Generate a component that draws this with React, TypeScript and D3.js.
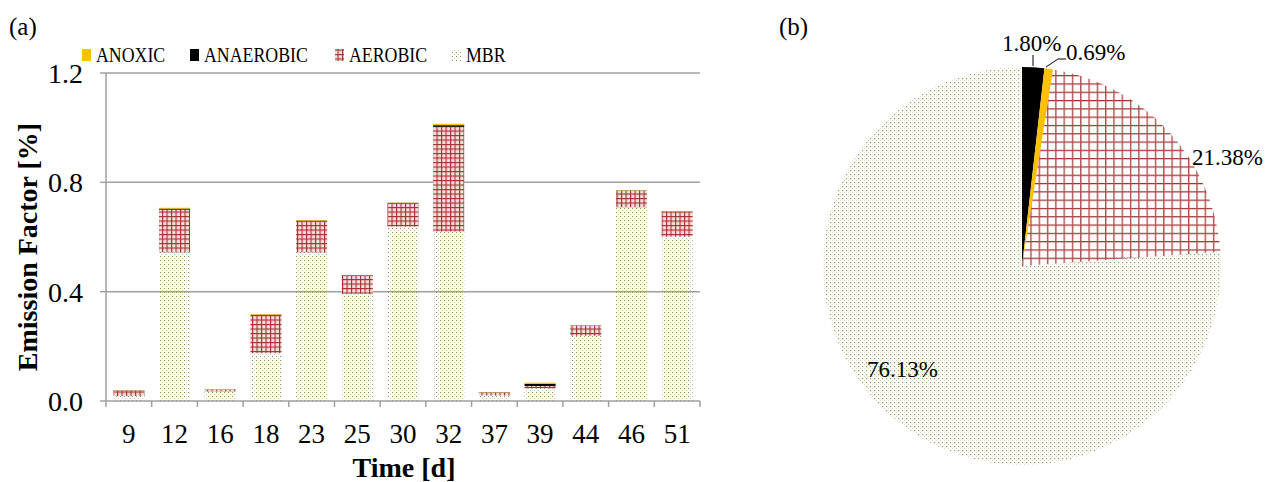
import * as d3 from "d3";

const days = ["9", "12", "16", "18", "23", "25", "30", "32", "37", "39", "44", "46", "51"];
const mbr = [0.018, 0.544, 0.035, 0.175, 0.544, 0.392, 0.638, 0.62, 0.02, 0.046, 0.239, 0.709, 0.601];
const aerobic = [0.02, 0.156, 0.006, 0.14, 0.113, 0.066, 0.085, 0.383, 0.011, 0.009, 0.037, 0.061, 0.092];
const anaerobic = [0.001, 0.004, 0.001, 0.001, 0.003, 0.002, 0.002, 0.006, 0.001, 0.008, 0.001, 0.001, 0.001];
const anoxic = [0.001, 0.003, 0.001, 0.002, 0.002, 0.001, 0.001, 0.005, 0.001, 0.004, 0.001, 0.001, 0.001];
const yTicks = [0, 0.4, 0.8, 1.2];

const pieNames = ["ANAEROBIC", "ANOXIC", "AEROBIC", "MBR"];
const pieShares = [1.8, 0.69, 21.38, 76.13];

const series = ["MBR", "AEROBIC", "ANAEROBIC", "ANOXIC"];
const legendOrder = ["ANOXIC", "ANAEROBIC", "AEROBIC", "MBR"];
const fillBar = { ANOXIC: "#ffc000", ANAEROBIC: "#000", AEROBIC: "url(#aeroBar)", MBR: "url(#mbrBar)" };
const fillPie = { ANOXIC: "#ffc000", ANAEROBIC: "#000", AEROBIC: "url(#aeroPie)", MBR: "url(#mbrPie)" };

const FONT = "Liberation Serif, Times New Roman, serif";

export default function App() {
  const W = 1276, H = 482;
  const m = { l: 106, r: 700, t: 73, b: 401 };

  const x = d3.scaleBand().domain(days).range([m.l, m.r]).paddingInner(0.32).paddingOuter(0.16);
  const xb = d3.scaleBand().domain(days).range([m.l, m.r]);
  const y = d3.scaleLinear().domain([0, 1.2]).range([m.b, m.t]);

  const rows = days.map((d, i) => ({ day: d, MBR: mbr[i], AEROBIC: aerobic[i], ANAEROBIC: anaerobic[i], ANOXIC: anoxic[i] }));
  const stacked = d3.stack().keys(series)(rows);

  const cx = 1022, cy = 266, R = 199;
  const pie = d3.pie<number>().sort(null).value((d) => d)(pieShares);
  const arc = d3.arc().innerRadius(0).outerRadius(R);

  // legend swatch x positions, text is a bit condensed like the original
  const legendX = [82, 190, 335, 452];
  const grid = "#a0a0a0";
  const T = (props: any) => <text fontFamily={FONT} {...props} />;

  return (
    <svg width={W} height={H} style={{ position: "absolute", left: 0, top: 0 }}>
      <defs>
        <pattern id="mbrBar" width="4" height="4" patternUnits="userSpaceOnUse">
          <rect x="0" y="0" width="1" height="1" fill="#7d9a34" />
          <rect x="2" y="2" width="1" height="1" fill="#c3d39a" />
        </pattern>
        <pattern id="mbrPie" width="4" height="4" patternUnits="userSpaceOnUse">
          <rect x="0" y="0" width="1.2" height="1.2" fill="#8aa246" />
          <rect x="2" y="2" width="1" height="1" fill="#d6e0bc" />
        </pattern>
        <pattern id="aeroBar" width="4.5" height="4.5" patternUnits="userSpaceOnUse">
          <rect width="4.5" height="4.5" fill="#f3dede" />
          <rect x="0" y="0" width="4.5" height="1.1" fill="#a82e2e" />
          <rect x="0" y="0" width="1.1" height="4.5" fill="#a82e2e" />
        </pattern>
        <pattern id="aeroPie" width="8.3" height="8.3" patternUnits="userSpaceOnUse">
          <rect x="0" y="0" width="8.3" height="1.2" fill="#9e2c2c" />
          <rect x="0" y="0" width="1.4" height="8.3" fill="#b04e4e" />
        </pattern>
      </defs>

      {/* panel (a) */}
      <T x={9} y={35} fontSize={25}>(a)</T>
      {yTicks.map((t) => (
        <g key={t}>
          {t > 0 && <line x1={m.l} x2={m.r} y1={y(t)} y2={y(t)} stroke={grid} strokeWidth={1.5} />}
          <line x1={m.l - 6} x2={m.l} y1={y(t)} y2={y(t)} stroke={grid} strokeWidth={1.5} />
          <T x={83} y={y(t) + 10} fontSize={28} textAnchor="end">{t.toFixed(1)}</T>
        </g>
      ))}
      <line x1={m.l} x2={m.l} y1={m.t} y2={m.b} stroke={grid} strokeWidth={1.5} />
      {stacked.map((s) => (
        <g key={s.key} fill={fillBar[s.key]}>
          {s.map((d, i) => (
            <rect key={i} x={x(days[i])} width={x.bandwidth()} y={y(d[1])} height={Math.max(0, y(d[0]) - y(d[1]))} />
          ))}
        </g>
      ))}
      <line x1={m.l} x2={m.r} y1={m.b} y2={m.b} stroke={grid} strokeWidth={1.5} />
      {days.map((d) => (
        <line key={d} x1={xb(d)! + xb.bandwidth()} x2={xb(d)! + xb.bandwidth()} y1={m.b} y2={m.b + 6} stroke={grid} strokeWidth={1.5} />
      ))}
      <line x1={m.l} x2={m.l} y1={m.b} y2={m.b + 6} stroke={grid} strokeWidth={1.5} />
      {days.map((d) => (
        <T key={d} x={x(d)! + x.bandwidth() / 2} y={443} fontSize={27} textAnchor="middle">{d}</T>
      ))}
      <T x={404} y={477} fontSize={28} fontWeight="bold" textAnchor="middle">Time [d]</T>
      <T transform="translate(37,247) rotate(-90)" fontSize={28} fontWeight="bold" textAnchor="middle">Emission Factor [%]</T>

      {legendOrder.map((k, i) => (
        <g key={k}>
          <rect x={legendX[i]} y={49} width={9} height={12} fill={fillBar[k]} />
          <T transform={`translate(${legendX[i] + 14},62) scale(0.81,1)`} fontSize={22}>{k}</T>
        </g>
      ))}

      {/* panel (b) */}
      <T x={779} y={35} fontSize={25}>(b)</T>
      <g transform={`translate(${cx},${cy})`}>
        {pie.map((p, i) => (
          <path key={i} d={arc(p as any)!} fill={fillPie[pieNames[i]]} />
        ))}
      </g>
      <polyline points="1033,66 1033,55" fill="none" stroke="#000" strokeWidth={1} />
      <polyline points="1046,67 1058,59 1066,59" fill="none" stroke="#000" strokeWidth={1} />
      <T x={1002} y={51} fontSize={23}>1.80%</T>
      <T x={1066} y={60} fontSize={23}>0.69%</T>
      <T x={1192} y={165} fontSize={23}>21.38%</T>
      <T x={867} y={377} fontSize={23}>76.13%</T>
    </svg>
  );
}
